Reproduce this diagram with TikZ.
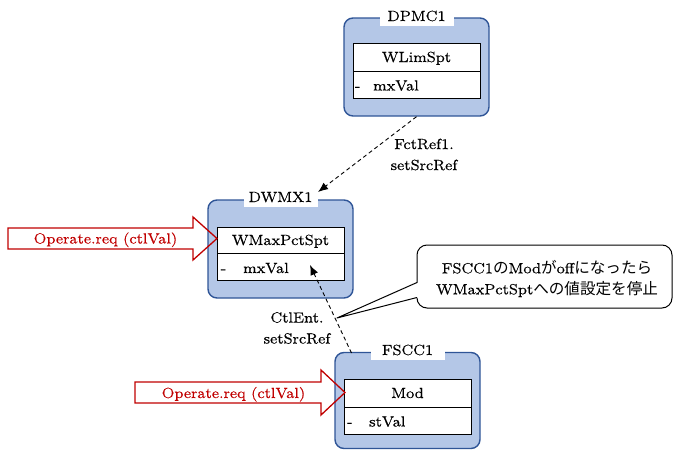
\documentclass[tikz,border=0pt]{standalone}
\usepackage{fontspec}
\setmainfont{lmroman8-regular.otf}[FakeStretch=1.04,FakeBold=0.3]
\newfontfamily\cjk{Noto Sans CJK JP}[Scale=1.06]
\usetikzlibrary{arrows.meta,calc}
\definecolor{boxfill}{HTML}{B4C7E7}
\definecolor{boxline}{HTML}{2F5597}
\definecolor{redline}{HTML}{C00000}
\begin{document}
\begin{tikzpicture}[x=1pt,y=-1pt,
  every node/.style={font=\fontsize{14.7}{21}\selectfont},
  outerbox/.style={draw=boxline, fill=boxfill, line width=1.4pt, rounded corners=9pt, minimum width=145pt, inner sep=0},
  titlebox/.style={fill=white, minimum width=74pt, minimum height=20pt, inner sep=0, text height=10pt, text depth=0pt},
  headbox/.style={draw=black, fill=white, line width=0.9pt, minimum width=127pt, minimum height=27.5pt, inner sep=0, text height=10pt, text depth=0pt},
  attrbox/.style={draw=black, fill=white, line width=0.9pt, minimum width=127pt, minimum height=27pt, inner sep=0},
  txt/.style={inner sep=0, anchor=west, text height=10pt, text depth=0pt},
  redarrow/.style={draw=redline, line width=1.3pt, line join=miter},
  redtext/.style={text=redline, inner sep=0, text height=10pt, text depth=0pt},
  dasharrow/.style={draw=black, line width=0.9pt, dash pattern=on 4pt off 3pt, -{Latex[length=10pt,width=8pt]}},
  lbl/.style={align=center, inner sep=0},
  callout/.style={draw=black, fill=white, line width=1pt, rounded corners=10pt, inner sep=0, minimum width=255pt, minimum height=63pt}
]
\useasboundingbox (0,0) rectangle (673,450);

% DPMC1
\node[outerbox, minimum height=98pt] (dpmc) at (416.5,67) {};
\node[titlebox] (dpmct) at (416.5,16) {DPMC1};
\node[headbox, minimum height=28pt] (dpmch) at (416.5,57) {WLimSpt};
\node[attrbox] (dpmca) at (416.5,84.5) {};
\node[txt] (dpmcd) at (354.8,85.5) {-};
\node[txt] (dpmcv) at (373,85.5) {mxVal};

% DWMX1
\node[outerbox, minimum height=98pt] (dwmx) at (280.5,249) {};
\node[titlebox] (dwmxt) at (280.5,197) {DWMX1};
\node[headbox, minimum height=26pt] (dwmxh) at (280.5,240) {WMaxPctSpt};
\node[attrbox] (dwmxa) at (280.5,266.5) {};
\node[txt] (dwmxd) at (220.6,268) {-};
\node[txt] (dwmxv) at (243,268) {mxVal};

% FSCC1
\node[outerbox, minimum height=96pt] (fscc) at (407.5,400.5) {};
\node[titlebox] (fscct) at (407.5,350) {FSCC1};
\node[headbox, minimum height=28pt] (fscch) at (407.5,393) {Mod};
\node[attrbox] (fscca) at (407.5,420.5) {};
\node[txt] (fsccd) at (347,421.5) {-};
\node[txt] (fsccv) at (369,421.5) {stVal};

% dashed references
\coordinate (t1) at (318,192);
\draw[dasharrow] (dpmc.south) -- (t1);
\node[lbl] (l1) at (424,154.5) {FctRef1.\\setSrcRef};
\coordinate (s2) at (351.5,353);
\coordinate (t2) at (310,265);
\draw[dasharrow] (s2) -- (t2);
\node[lbl] (l2) at (297,328) {CtlEnt.\\setSrcRef};

% red block arrows
\draw[redarrow] (8,228) -- (193,228) -- (193,217) -- (217,238.5) -- (193,260) -- (193,249) -- (8,249) -- cycle;
\node[redtext] (op1) at (105.5,238.5) {Operate.req (ctlVal)};
\draw[redarrow] (135,382) -- (321,382) -- (321,370) -- (345,392.5) -- (321,415) -- (321,403) -- (135,403) -- cycle;
\node[redtext] (op2) at (233.5,393) {Operate.req (ctlVal)};

% callout
\node[callout] (call) at (544.5,276.5) {};
\coordinate (ptip) at (337,318);
\coordinate (pa) at (417,282.5);
\coordinate (pb) at (417,297.5);
\fill[white] ($(pa)+(1.5,0)$) -- (ptip) -- ($(pb)+(1.5,0)$) -- cycle;
\draw[line width=1pt, line join=round] (pa) -- (ptip) -- (pb);
\node[lbl] (calltxt) at (547,278.6) {FSCC1{\cjk の}Mod{\cjk が}off{\cjk になったら}\\WMaxPctSpt{\cjk への値設定を停止}};
\end{tikzpicture}
\end{document}
